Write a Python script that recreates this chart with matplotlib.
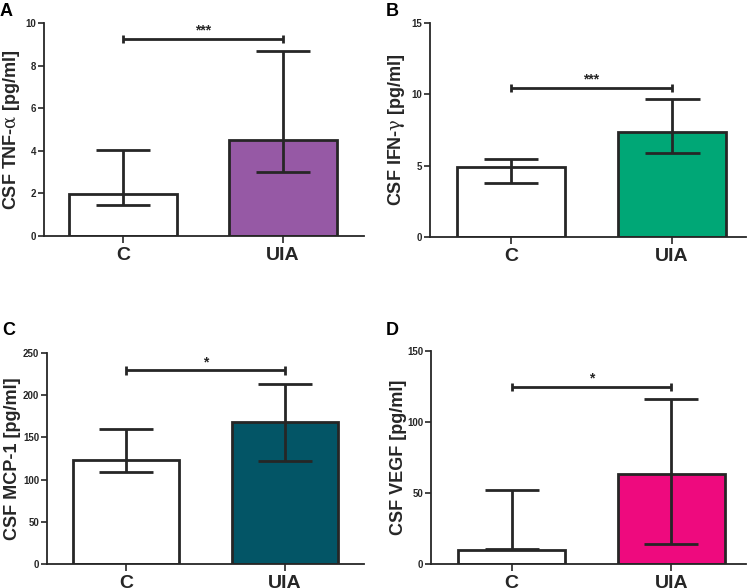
import numpy as np
import matplotlib
matplotlib.use('Agg')
import matplotlib.pyplot as plt

plt.rcParams['font.family'] = ['Liberation Sans', 'DejaVu Sans']
plt.rcParams['mathtext.fontset'] = 'custom'
plt.rcParams['mathtext.rm'] = 'DejaVu Serif'
plt.rcParams['mathtext.it'] = 'DejaVu Serif'

groups = ['C', 'UIA']

# median, lower, upper for each group
tnf_mid = [1.95, 4.53]
tnf_low = [1.45, 3.0]
tnf_high = [4.05, 8.7]

ifn_mid = [4.88, 7.36]
ifn_low = [3.8, 5.9]
ifn_high = [5.49, 9.65]

mcp_mid = [123.4, 168.8]
mcp_low = [108.8, 122.6]
mcp_high = [160.5, 213.5]

vegf_mid = [10.1, 63.3]
vegf_low = [10.8, 14.0]
vegf_high = [52.0, 116.0]

panels = [
    dict(letter='A', label='CSF TNF-$\\alpha$ [pg/ml]', mid=tnf_mid, low=tnf_low, high=tnf_high,
         color='#9659A5', ymax=10, yticks=[0, 2, 4, 6, 8, 10], bracket=9.25, stars='***',
         pos=[0.0584, 0.5986, 0.425, 0.3622], xlim=(-0.494, 1.506), lpos=(0.0, 0.973), ylx=-0.068),
    dict(letter='B', label='CSF IFN-$\\gamma$ [pg/ml]', mid=ifn_mid, low=ifn_low, high=ifn_high,
         color='#00A776', ymax=15, yticks=[0, 5, 10, 15], bracket=10.45, stars='***',
         pos=[0.571, 0.597, 0.42, 0.364], xlim=(-0.503, 1.46), lpos=(0.512, 0.973), ylx=-0.073),
    dict(letter='C', label='CSF MCP-1 [pg/ml]', mid=mcp_mid, low=mcp_low, high=mcp_high,
         color='#035566', ymax=250, yticks=[0, 50, 100, 150, 200, 250], bracket=229.4, stars='*',
         pos=[0.0624, 0.0408, 0.421, 0.3588], xlim=(-0.497, 1.497), lpos=(0.003, 0.43), ylx=-0.083),
    dict(letter='D', label='CSF VEGF [pg/ml]', mid=vegf_mid, low=vegf_low, high=vegf_high,
         color='#EE0A7E', ymax=150, yticks=[0, 50, 100, 150], bracket=124.7, stars='*',
         pos=[0.5724, 0.0408, 0.4183, 0.3622], xlim=(-0.506, 1.469), lpos=(0.512, 0.43), ylx=-0.077),
]

dark = '#262626'
fig = plt.figure(figsize=(7.53, 5.88), dpi=100)

for p in panels:
    ax = fig.add_axes(p['pos'])
    x = np.arange(len(groups))
    ax.bar(x, p['mid'], width=0.67, color=['white', p['color']], edgecolor=dark,
           linewidth=2, zorder=2)
    # error bars low..high with caps
    ax.vlines(x, p['low'], p['high'], color=dark, linewidth=2, zorder=3)
    ax.hlines(p['low'], x - 0.17, x + 0.17, color=dark, linewidth=2, zorder=3)
    ax.hlines(p['high'], x - 0.17, x + 0.17, color=dark, linewidth=2, zorder=3)
    # significance bracket
    b = p['bracket']
    tick = p['ymax'] * 0.02
    ax.hlines(b, 0, 1, color=dark, linewidth=2, zorder=3)
    ax.vlines([0, 1], b - tick, b + tick, color=dark, linewidth=2, zorder=3)
    ax.text(0.5, b + p['ymax'] * 0.005, p['stars'], ha='center', va='bottom',
            fontsize=10, fontweight='bold', color=dark)

    ax.set_xlim(*p['xlim'])
    ax.set_ylim(0, p['ymax'])
    ax.set_yticks(p['yticks'])
    ax.set_xticks(x)
    ax.set_xticklabels(groups, fontsize=14, fontweight='bold')
    for t in ax.get_yticklabels():
        t.set_fontsize(7)
        t.set_fontweight('bold')
    ax.tick_params(axis='y', length=4, width=1.2, colors=dark, pad=1.5)
    ax.tick_params(axis='x', length=5, width=1.2, colors=dark, pad=3)
    for s in ['top', 'right']:
        ax.spines[s].set_visible(False)
    for s in ['left', 'bottom']:
        ax.spines[s].set_linewidth(1.3)
        ax.spines[s].set_color(dark)
    ax.set_ylabel(p['label'], fontsize=13, fontweight='bold', color=dark)
    ax.yaxis.set_label_coords(p['ylx'], 0.5)
    fig.text(p['lpos'][0], p['lpos'][1], p['letter'], fontsize=13,
             fontweight='bold', ha='left', va='baseline')

fig.savefig('out.png', dpi=100)
